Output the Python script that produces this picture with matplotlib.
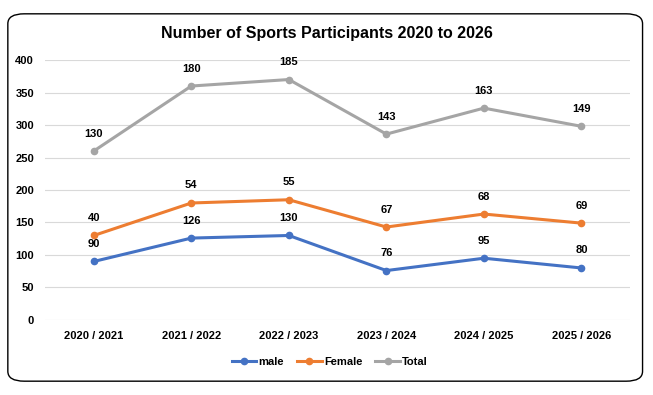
import numpy as np
import matplotlib
matplotlib.use('Agg')
import matplotlib.pyplot as plt
from matplotlib.patches import FancyBboxPatch

plt.rcParams['font.family'] = ['Liberation Sans Narrow', 'Liberation Sans', 'DejaVu Sans']

seasons = ['2020 / 2021', '2021 / 2022', '2022 / 2023', '2023 / 2024', '2024 / 2025', '2025 / 2026']
male = [90, 126, 130, 76, 95, 80]
female = [40, 54, 55, 67, 68, 69]
total = [130, 180, 185, 143, 163, 149]

# stacked line chart: each series drawn on top of the previous
series = [('male', male, '#4472C4'), ('Female', female, '#ED7D31'), ('Total', total, '#A5A5A5')]

fig = plt.figure(figsize=(6.53, 3.95), dpi=100)
border = FancyBboxPatch((0.012, 0.035), 0.972, 0.93, boxstyle='round,pad=0,rounding_size=0.025',
                        transform=fig.transFigure, facecolor='none', edgecolor='black', linewidth=1.0,
                        zorder=-1)
fig.patches.append(border)

ax = fig.add_axes([0.069, 0.19, 0.896, 0.658])
x = np.arange(len(seasons))
base = np.zeros(len(seasons))
for name, vals, col in series:
    y = base + np.array(vals)
    ax.plot(x, y, color=col, linewidth=2.2, marker='o', markersize=4.5, label=name, zorder=3)
    for xi, yi, v in zip(x, y, vals):
        ax.annotate(str(v), (xi, yi), xytext=(0, 9), textcoords='offset points',
                    ha='center', va='bottom', fontsize=8, fontweight='bold')
    base = y

ax.set_xlim(-0.5, len(seasons) - 0.5)
ax.set_ylim(0, 400)
ax.set_yticks(range(0, 401, 50))
ax.set_xticks(x)
ax.set_xticklabels(seasons, fontweight='bold', fontsize=8)
for t in ax.get_yticklabels():
    t.set_fontweight('bold')
    t.set_fontsize(8)
ax.grid(axis='y', color='#D9D9D9', linewidth=0.8, zorder=0)
ax.set_axisbelow(True)
ax.tick_params(length=0, pad=8)
ax.tick_params(axis='x', pad=8)
for s in ax.spines.values():
    s.set_visible(False)
ax.set_facecolor('none')

fig.suptitle('Number of Sports Participants 2020 to 2026', y=0.935, fontsize=11.5, fontweight='bold')
leg = fig.legend(loc='center', bbox_to_anchor=(0.505, 0.083), ncol=3, frameon=False,
                 prop={'size': 8, 'weight': 'bold'}, handlelength=2.2, handletextpad=0.2, columnspacing=1.2)

fig.savefig('out.png', dpi=100)
